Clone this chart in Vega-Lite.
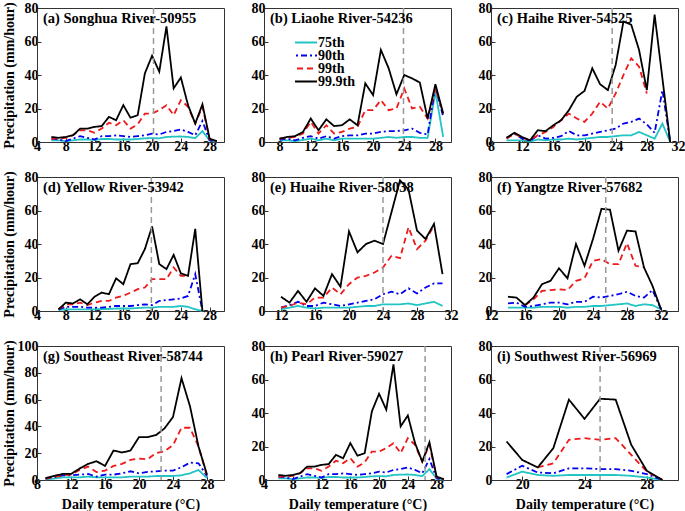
{
"$schema":"https://vega.github.io/schema/vega-lite/v6.json",
"padding":{"left":1,"top":0,"right":0,"bottom":0},
"background":"white",
"datasets":{
"a":[
{"t":6,"p75":1,"p90":2,"p99":2,"p999":3},
{"t":7,"p75":1,"p90":1.5,"p99":2,"p999":2.5},
{"t":8,"p75":0.5,"p90":0.5,"p99":2.5,"p999":3},
{"t":9,"p75":1,"p90":2,"p99":4,"p999":4},
{"t":10,"p75":1.5,"p90":3.5,"p99":7,"p999":8},
{"t":11,"p75":1.5,"p90":2.5,"p99":7,"p999":8},
{"t":12,"p75":1.2,"p90":1.5,"p99":5.5,"p999":9},
{"t":13,"p75":1.8,"p90":3.5,"p99":8,"p999":9.5},
{"t":14,"p75":1.8,"p90":3.5,"p99":11.5,"p999":15},
{"t":15,"p75":1.5,"p90":4,"p99":10,"p999":13},
{"t":16,"p75":1.5,"p90":3.5,"p99":13,"p999":22},
{"t":17,"p75":1.5,"p90":3,"p99":8,"p999":14.5},
{"t":18,"p75":1.8,"p90":3.5,"p99":10.5,"p999":16},
{"t":19,"p75":2.2,"p90":4,"p99":17,"p999":41},
{"t":20,"p75":2.3,"p90":5,"p99":17,"p999":51.5},
{"t":21,"p75":2.2,"p90":4.5,"p99":19,"p999":42},
{"t":22,"p75":3,"p90":6,"p99":22,"p999":69},
{"t":23,"p75":3.2,"p90":6.5,"p99":16,"p999":32},
{"t":24,"p75":3.3,"p90":7.5,"p99":25,"p999":38.5},
{"t":25,"p75":3,"p90":6,"p99":21,"p999":22},
{"t":26,"p75":2.3,"p90":4,"p99":11,"p999":11},
{"t":27,"p75":6.5,"p90":12.5,"p99":21,"p999":22.5},
{"t":28,"p75":0.8,"p90":1,"p99":1.5,"p999":2},
{"t":29,"p75":0.2,"p90":0.2,"p99":0.3,"p999":0.5}
],
"b":[
{"t":8,"p75":1,"p90":1.5,"p99":2,"p999":2},
{"t":9,"p75":1,"p90":2,"p99":2.5,"p999":3},
{"t":10,"p75":0.5,"p90":1,"p99":3,"p999":3.5},
{"t":11,"p75":1.2,"p90":2.5,"p99":5,"p999":6},
{"t":12,"p75":2,"p90":3.5,"p99":12,"p999":14},
{"t":13,"p75":1,"p90":2,"p99":5,"p999":7},
{"t":14,"p75":2,"p90":3.5,"p99":10,"p999":13.5},
{"t":15,"p75":1,"p90":2,"p99":5,"p999":9.5},
{"t":16,"p75":2,"p90":3.5,"p99":6,"p999":10},
{"t":17,"p75":2,"p90":4,"p99":8,"p999":13.5},
{"t":18,"p75":2,"p90":4,"p99":9,"p999":10},
{"t":19,"p75":2,"p90":5,"p99":19,"p999":35},
{"t":20,"p75":2,"p90":5,"p99":19,"p999":28},
{"t":21,"p75":2.5,"p90":6,"p99":25,"p999":55},
{"t":22,"p75":3,"p90":6.5,"p99":19,"p999":44},
{"t":23,"p75":2.5,"p90":6.5,"p99":20,"p999":28.5},
{"t":24,"p75":3,"p90":7,"p99":32,"p999":40},
{"t":25,"p75":3,"p90":8,"p99":20,"p999":38},
{"t":26,"p75":2.5,"p90":5.5,"p99":21,"p999":35.5},
{"t":27,"p75":2.5,"p90":4.5,"p99":14,"p999":14},
{"t":28,"p75":30,"p90":33,"p99":32,"p999":34.5},
{"t":29,"p75":3,"p90":15,"p99":17,"p999":17}
],
"c":[
{"t":10,"p75":1,"p90":2.5,"p99":2,"p999":2.5},
{"t":11,"p75":1,"p90":5,"p99":5,"p999":5.5},
{"t":12,"p75":1,"p90":2,"p99":2.5,"p999":3},
{"t":13,"p75":0.3,"p90":0.5,"p99":1,"p999":1},
{"t":14,"p75":1.5,"p90":4,"p99":4,"p999":7},
{"t":15,"p75":1,"p90":2,"p99":6,"p999":6.5},
{"t":16,"p75":1.5,"p90":2.5,"p99":9,"p999":10},
{"t":17,"p75":1.5,"p90":3.5,"p99":13,"p999":13},
{"t":18,"p75":2,"p90":6.5,"p99":17,"p999":19},
{"t":19,"p75":1.5,"p90":4,"p99":14,"p999":27},
{"t":20,"p75":2,"p90":4,"p99":12,"p999":30.5},
{"t":21,"p75":2.5,"p90":5,"p99":17,"p999":44},
{"t":22,"p75":3,"p90":6,"p99":24,"p999":34.5},
{"t":23,"p75":3,"p90":7,"p99":20,"p999":31},
{"t":24,"p75":3.5,"p90":8,"p99":29,"p999":46},
{"t":25,"p75":4,"p90":11,"p99":40,"p999":72},
{"t":26,"p75":4,"p90":12,"p99":50,"p999":70},
{"t":27,"p75":6,"p90":14,"p99":45,"p999":55},
{"t":28,"p75":4,"p90":10.5,"p99":29,"p999":31},
{"t":29,"p75":2,"p90":5.5,"p99":null,"p999":76},
{"t":30,"p75":11,"p90":31,"p99":null,"p999":38},
{"t":31,"p75":0,"p90":0,"p99":null,"p999":0}
],
"d":[
{"t":7,"p75":0.5,"p90":1,"p99":1,"p999":1},
{"t":8,"p75":1,"p90":2.5,"p99":4,"p999":5},
{"t":9,"p75":1,"p90":2.5,"p99":4,"p999":4.5},
{"t":10,"p75":1,"p90":2.5,"p99":5,"p999":7},
{"t":11,"p75":1,"p90":2,"p99":3.5,"p999":4},
{"t":12,"p75":1,"p90":2,"p99":5,"p999":8.5},
{"t":13,"p75":1.2,"p90":2,"p99":6,"p999":11},
{"t":14,"p75":1.2,"p90":2.5,"p99":6,"p999":10},
{"t":15,"p75":1.5,"p90":3,"p99":8,"p999":19.5},
{"t":16,"p75":1.5,"p90":3,"p99":9,"p999":16},
{"t":17,"p75":1.5,"p90":3,"p99":11,"p999":28},
{"t":18,"p75":1.8,"p90":3.5,"p99":13,"p999":28.5},
{"t":19,"p75":2,"p90":4,"p99":14,"p999":37},
{"t":20,"p75":2,"p90":3.5,"p99":19,"p999":50.5},
{"t":21,"p75":2.5,"p90":6,"p99":19,"p999":28},
{"t":22,"p75":2.5,"p90":6.5,"p99":19,"p999":25},
{"t":23,"p75":2.5,"p90":7,"p99":26,"p999":33.5},
{"t":24,"p75":3,"p90":7.5,"p99":21,"p999":22.5},
{"t":25,"p75":2.5,"p90":9,"p99":21,"p999":21},
{"t":26,"p75":1,"p90":22,"p99":null,"p999":49},
{"t":27,"p75":0,"p90":0,"p99":null,"p999":0}
],
"e":[
{"t":12,"p75":1,"p90":2,"p99":2,"p999":8.5},
{"t":13,"p75":2,"p90":3.5,"p99":3,"p999":5},
{"t":14,"p75":3,"p90":5.5,"p99":5,"p999":12},
{"t":15,"p75":2,"p90":3,"p99":4,"p999":5.5},
{"t":16,"p75":1.5,"p90":3,"p99":8,"p999":13.5},
{"t":17,"p75":2,"p90":5,"p99":8,"p999":9},
{"t":18,"p75":2,"p90":4,"p99":14,"p999":22},
{"t":19,"p75":2,"p90":3,"p99":10,"p999":14.5},
{"t":20,"p75":2,"p90":4,"p99":16,"p999":47.5},
{"t":21,"p75":2.5,"p90":5,"p99":20,"p999":35},
{"t":22,"p75":3,"p90":6,"p99":21,"p999":40},
{"t":23,"p75":3,"p90":7,"p99":23,"p999":42},
{"t":24,"p75":4,"p90":10,"p99":26,"p999":40},
{"t":25,"p75":4,"p90":11.5,"p99":33,"p999":59},
{"t":26,"p75":4,"p90":10,"p99":31.5,"p999":78},
{"t":27,"p75":4.5,"p90":13.5,"p99":50,"p999":72.5},
{"t":28,"p75":3.5,"p90":10.5,"p99":37,"p999":48},
{"t":29,"p75":4.5,"p90":14,"p99":42,"p999":43},
{"t":30,"p75":5.5,"p90":16.5,"p99":51,"p999":52},
{"t":31,"p75":3,"p90":16.5,"p99":null,"p999":22}
],
"f":[
{"t":14,"p75":2,"p90":4.5,"p99":null,"p999":8.5},
{"t":15,"p75":2,"p90":5,"p99":null,"p999":8},
{"t":16,"p75":2,"p90":2.5,"p99":3.5,"p999":3.5},
{"t":17,"p75":2,"p90":3,"p99":7,"p999":8},
{"t":18,"p75":2.5,"p90":4,"p99":12,"p999":16},
{"t":19,"p75":2.5,"p90":5,"p99":12.5,"p999":18},
{"t":20,"p75":2.5,"p90":5,"p99":13,"p999":25.5},
{"t":21,"p75":2,"p90":4,"p99":12.5,"p999":19.5},
{"t":22,"p75":2.5,"p90":5.5,"p99":18,"p999":40},
{"t":23,"p75":2.5,"p90":5.5,"p99":19.5,"p999":27},
{"t":24,"p75":3,"p90":8.5,"p99":30,"p999":43},
{"t":25,"p75":3,"p90":8,"p99":31,"p999":61},
{"t":26,"p75":3.5,"p90":9,"p99":28,"p999":60.5},
{"t":27,"p75":4,"p90":10,"p99":28,"p999":36},
{"t":28,"p75":4.5,"p90":11.5,"p99":40.5,"p999":48},
{"t":29,"p75":3,"p90":9,"p99":27,"p999":47.5},
{"t":30,"p75":4,"p90":8,"p99":26,"p999":26},
{"t":31,"p75":3.5,"p90":12.5,"p99":null,"p999":15},
{"t":32,"p75":1,"p90":1,"p99":null,"p999":1}
],
"g":[
{"t":9,"p75":0.5,"p90":1,"p99":1,"p999":1.5},
{"t":10,"p75":1,"p90":2,"p99":2,"p999":3},
{"t":11,"p75":2,"p90":3.5,"p99":3.5,"p999":4.5},
{"t":12,"p75":2,"p90":3.5,"p99":4,"p999":4.5},
{"t":13,"p75":2,"p90":4,"p99":7.5,"p999":8.5},
{"t":14,"p75":2.5,"p90":4.5,"p99":10,"p999":12},
{"t":15,"p75":2,"p90":2.5,"p99":6,"p999":14},
{"t":16,"p75":2,"p90":4,"p99":7,"p999":10.5},
{"t":17,"p75":2,"p90":4,"p99":10.5,"p999":22},
{"t":18,"p75":2,"p90":5,"p99":12,"p999":20.5},
{"t":19,"p75":2.5,"p90":6.5,"p99":15,"p999":22},
{"t":20,"p75":2.5,"p90":5,"p99":16,"p999":32},
{"t":21,"p75":2.5,"p90":6,"p99":15.5,"p999":32},
{"t":22,"p75":3,"p90":6.5,"p99":20,"p999":33.5},
{"t":23,"p75":3,"p90":7,"p99":21.5,"p999":38.5},
{"t":24,"p75":3,"p90":7,"p99":26,"p999":47},
{"t":25,"p75":3.5,"p90":9.5,"p99":39,"p999":76},
{"t":26,"p75":5,"p90":13,"p99":39,"p999":55},
{"t":27,"p75":7.5,"p90":12.5,"p99":25,"p999":25},
{"t":28,"p75":1.5,"p90":3,"p99":3,"p999":4}
],
"i":[
{"t":19,"p75":1.5,"p90":3.5,"p99":null,"p999":23},
{"t":20,"p75":5,"p90":8.5,"p99":null,"p999":12},
{"t":21,"p75":3,"p90":4.5,"p99":7.5,"p999":7.5},
{"t":22,"p75":2.5,"p90":4,"p99":10,"p999":19},
{"t":23,"p75":3,"p90":7,"p99":24,"p999":48},
{"t":24,"p75":3,"p90":7,"p99":25,"p999":36.5},
{"t":25,"p75":3,"p90":6.5,"p99":24,"p999":48.5},
{"t":26,"p75":3,"p90":6.5,"p99":25,"p999":48},
{"t":27,"p75":2.5,"p90":5.5,"p99":15,"p999":21},
{"t":28,"p75":1.5,"p90":3.5,"p99":5,"p999":5.5},
{"t":29,"p75":0,"p90":0,"p99":0,"p999":0}
]
},
"columns":3,
"bounds":"flush",
"spacing":{"row":35,"column":40},
"resolve":{"legend":{"color":"independent","strokeDash":"independent"}},
"concat":[
{"width":187,"height":134,"title":{"text":"(a) Songhua River-50955"},
 "layer":[
  {"data":{"name":"a"},"transform":[{"fold":["p75","p90","p99","p999"],"as":["pct","v"]}],
   "mark":{"type":"line","strokeWidth":1.8},
   "encoding":{
    "x":{"field":"t","type":"quantitative","scale":{"domain":[4,30]},"axis":{"values":[4,8,12,16,20,24,28],"title":null}},
    "y":{"field":"v","type":"quantitative","scale":{"domain":[0,80]},"axis":{"values":[0,20,40,60,80],"title":"Precipitation (mm/hour)","titleX":-21}},
    "color":{"field":"pct","type":"nominal","scale":{"domain":["p75","p90","p99","p999"],"range":["#22C4C4","#0000F0","#F01818","#000000"]},"legend":null},
    "strokeDash":{"field":"pct","type":"nominal","scale":{"domain":["p75","p90","p99","p999"],"range":[[1,0],[6,3,2,3],[6,4],[1,0]]},"legend":null}}},
  {"data":{"values":[{"tc":20.2}]},"mark":{"type":"rule","color":"#999999","strokeDash":[6,4],"strokeWidth":1.5},"encoding":{"x":{"field":"tc","type":"quantitative"}}}
 ]},
{"width":187,"height":134,"title":{"text":"(b) Liaohe River-54236"},
 "layer":[
  {"data":{"name":"b"},"transform":[{"fold":["p75","p90","p99","p999"],"as":["pct","v"]}],
   "mark":{"type":"line","strokeWidth":1.8},
   "encoding":{
    "x":{"field":"t","type":"quantitative","scale":{"domain":[6,30]},"axis":{"values":[8,12,16,20,24,28],"title":null}},
    "y":{"field":"v","type":"quantitative","scale":{"domain":[0,80]},"axis":{"values":[0,20,40,60,80],"title":null}},
    "color":{"field":"pct","type":"nominal","scale":{"domain":["p75","p90","p99","p999"],"range":["#22C4C4","#0000F0","#F01818","#000000"]},
      "legend":{"orient":"none","legendX":31,"legendY":29,"title":null,"symbolType":"M-3,0H3","symbolSize":100,"symbolStrokeWidth":2,"labelFont":"Liberation Serif","labelFontSize":14,"labelFontWeight":"bold","labelColor":"#000","rowPadding":-3,"clipHeight":11,"labelOffset":9,"padding":0,"labelExpr":"datum.label == 'p75' ? '75th' : datum.label == 'p90' ? '90th' : datum.label == 'p99' ? '99th' : '99.9th'"}},
    "strokeDash":{"field":"pct","type":"nominal","scale":{"domain":["p75","p90","p99","p999"],"range":[[1,0],[6,3,2,3],[6,4],[1,0]]},
      "legend":{"orient":"none","legendX":31,"legendY":29,"title":null,"symbolType":"M-3,0H3","symbolSize":100,"symbolStrokeWidth":2,"labelFont":"Liberation Serif","labelFontSize":14,"labelFontWeight":"bold","labelColor":"#000","rowPadding":-3,"clipHeight":11,"labelOffset":9,"padding":0,"labelExpr":"datum.label == 'p75' ? '75th' : datum.label == 'p90' ? '90th' : datum.label == 'p99' ? '99th' : '99.9th'"}}}},
  {"data":{"values":[{"tc":23.9}]},"mark":{"type":"rule","color":"#999999","strokeDash":[6,4],"strokeWidth":1.5},"encoding":{"x":{"field":"tc","type":"quantitative"}}}
 ]},
{"width":187,"height":134,"title":{"text":"(c) Haihe River-54525"},
 "layer":[
  {"data":{"name":"c"},"transform":[{"fold":["p75","p90","p99","p999"],"as":["pct","v"]}],
   "mark":{"type":"line","strokeWidth":1.8},
   "encoding":{
    "x":{"field":"t","type":"quantitative","scale":{"domain":[8,32]},"axis":{"values":[8,12,16,20,24,28,32],"title":null}},
    "y":{"field":"v","type":"quantitative","scale":{"domain":[0,80]},"axis":{"values":[0,20,40,60,80],"title":null}},
    "color":{"field":"pct","type":"nominal","scale":{"domain":["p75","p90","p99","p999"],"range":["#22C4C4","#0000F0","#F01818","#000000"]},"legend":null},
    "strokeDash":{"field":"pct","type":"nominal","scale":{"domain":["p75","p90","p99","p999"],"range":[[1,0],[6,3,2,3],[6,4],[1,0]]},"legend":null}}},
  {"data":{"values":[{"tc":23.55}]},"mark":{"type":"rule","color":"#999999","strokeDash":[6,4],"strokeWidth":1.5},"encoding":{"x":{"field":"tc","type":"quantitative"}}}
 ]},
{"width":187,"height":134,"title":{"text":"(d) Yellow River-53942"},
 "layer":[
  {"data":{"name":"d"},"transform":[{"fold":["p75","p90","p99","p999"],"as":["pct","v"]}],
   "mark":{"type":"line","strokeWidth":1.8},
   "encoding":{
    "x":{"field":"t","type":"quantitative","scale":{"domain":[4,30]},"axis":{"values":[4,8,12,16,20,24,28],"title":null}},
    "y":{"field":"v","type":"quantitative","scale":{"domain":[0,80]},"axis":{"values":[0,20,40,60,80],"title":"Precipitation (mm/hour)","titleX":-21}},
    "color":{"field":"pct","type":"nominal","scale":{"domain":["p75","p90","p99","p999"],"range":["#22C4C4","#0000F0","#F01818","#000000"]},"legend":null},
    "strokeDash":{"field":"pct","type":"nominal","scale":{"domain":["p75","p90","p99","p999"],"range":[[1,0],[6,3,2,3],[6,4],[1,0]]},"legend":null}}},
  {"data":{"values":[{"tc":19.9}]},"mark":{"type":"rule","color":"#999999","strokeDash":[6,4],"strokeWidth":1.5},"encoding":{"x":{"field":"tc","type":"quantitative"}}}
 ]},
{"width":187,"height":134,"title":{"text":"(e) Huaihe River-58038"},
 "layer":[
  {"data":{"name":"e"},"transform":[{"fold":["p75","p90","p99","p999"],"as":["pct","v"]}],
   "mark":{"type":"line","strokeWidth":1.8},
   "encoding":{
    "x":{"field":"t","type":"quantitative","scale":{"domain":[10,32]},"axis":{"values":[12,16,20,24,28,32],"title":null}},
    "y":{"field":"v","type":"quantitative","scale":{"domain":[0,80]},"axis":{"values":[0,20,40,60,80],"title":null}},
    "color":{"field":"pct","type":"nominal","scale":{"domain":["p75","p90","p99","p999"],"range":["#22C4C4","#0000F0","#F01818","#000000"]},"legend":null},
    "strokeDash":{"field":"pct","type":"nominal","scale":{"domain":["p75","p90","p99","p999"],"range":[[1,0],[6,3,2,3],[6,4],[1,0]]},"legend":null}}},
  {"data":{"values":[{"tc":24}]},"mark":{"type":"rule","color":"#999999","strokeDash":[6,4],"strokeWidth":1.5},"encoding":{"x":{"field":"tc","type":"quantitative"}}}
 ]},
{"width":187,"height":134,"title":{"text":"(f) Yangtze River-57682"},
 "layer":[
  {"data":{"name":"f"},"transform":[{"fold":["p75","p90","p99","p999"],"as":["pct","v"]}],
   "mark":{"type":"line","strokeWidth":1.8},
   "encoding":{
    "x":{"field":"t","type":"quantitative","scale":{"domain":[12,34]},"axis":{"values":[12,16,20,24,28,32],"title":null}},
    "y":{"field":"v","type":"quantitative","scale":{"domain":[0,80]},"axis":{"values":[0,20,40,60,80],"title":null}},
    "color":{"field":"pct","type":"nominal","scale":{"domain":["p75","p90","p99","p999"],"range":["#22C4C4","#0000F0","#F01818","#000000"]},"legend":null},
    "strokeDash":{"field":"pct","type":"nominal","scale":{"domain":["p75","p90","p99","p999"],"range":[[1,0],[6,3,2,3],[6,4],[1,0]]},"legend":null}}},
  {"data":{"values":[{"tc":25.5}]},"mark":{"type":"rule","color":"#999999","strokeDash":[6,4],"strokeWidth":1.5},"encoding":{"x":{"field":"tc","type":"quantitative"}}}
 ]},
{"width":187,"height":134,"title":{"text":"(g) Southeast River-58744"},
 "layer":[
  {"data":{"name":"g"},"transform":[{"fold":["p75","p90","p99","p999"],"as":["pct","v"]}],
   "mark":{"type":"line","strokeWidth":1.8},
   "encoding":{
    "x":{"field":"t","type":"quantitative","scale":{"domain":[8,30]},"axis":{"values":[8,12,16,20,24,28],"title":"Daily temperature (°C)"}},
    "y":{"field":"v","type":"quantitative","scale":{"domain":[0,100]},"axis":{"values":[0,20,40,60,80,100],"title":"Precipitation (mm/hour)","titleX":-21}},
    "color":{"field":"pct","type":"nominal","scale":{"domain":["p75","p90","p99","p999"],"range":["#22C4C4","#0000F0","#F01818","#000000"]},"legend":null},
    "strokeDash":{"field":"pct","type":"nominal","scale":{"domain":["p75","p90","p99","p999"],"range":[[1,0],[6,3,2,3],[6,4],[1,0]]},"legend":null}}},
  {"data":{"values":[{"tc":22.6}]},"mark":{"type":"rule","color":"#999999","strokeDash":[6,4],"strokeWidth":1.5},"encoding":{"x":{"field":"tc","type":"quantitative"}}}
 ]},
{"width":187,"height":134,"title":{"text":"(h) Pearl River-59027"},
 "layer":[
  {"data":{"name":"a"},"transform":[{"fold":["p75","p90","p99","p999"],"as":["pct","v"]}],
   "mark":{"type":"line","strokeWidth":1.8},
   "encoding":{
    "x":{"field":"t","type":"quantitative","scale":{"domain":[4,30]},"axis":{"values":[4,8,12,16,20,24,28],"title":"Daily temperature (°C)"}},
    "y":{"field":"v","type":"quantitative","scale":{"domain":[0,80]},"axis":{"values":[0,20,40,60,80],"title":null}},
    "color":{"field":"pct","type":"nominal","scale":{"domain":["p75","p90","p99","p999"],"range":["#22C4C4","#0000F0","#F01818","#000000"]},"legend":null},
    "strokeDash":{"field":"pct","type":"nominal","scale":{"domain":["p75","p90","p99","p999"],"range":[[1,0],[6,3,2,3],[6,4],[1,0]]},"legend":null}}},
  {"data":{"values":[{"tc":26.4}]},"mark":{"type":"rule","color":"#999999","strokeDash":[6,4],"strokeWidth":1.5},"encoding":{"x":{"field":"tc","type":"quantitative"}}}
 ]},
{"width":187,"height":134,"title":{"text":"(i) Southwest River-56969"},
 "layer":[
  {"data":{"name":"i"},"transform":[{"fold":["p75","p90","p99","p999"],"as":["pct","v"]}],
   "mark":{"type":"line","strokeWidth":1.8},
   "encoding":{
    "x":{"field":"t","type":"quantitative","scale":{"domain":[18,30]},"axis":{"values":[20,24,28],"title":"Daily temperature (°C)"}},
    "y":{"field":"v","type":"quantitative","scale":{"domain":[0,80]},"axis":{"values":[0,20,40,60,80],"title":null}},
    "color":{"field":"pct","type":"nominal","scale":{"domain":["p75","p90","p99","p999"],"range":["#22C4C4","#0000F0","#F01818","#000000"]},"legend":null},
    "strokeDash":{"field":"pct","type":"nominal","scale":{"domain":["p75","p90","p99","p999"],"range":[[1,0],[6,3,2,3],[6,4],[1,0]]},"legend":null}}},
  {"data":{"values":[{"tc":25}]},"mark":{"type":"rule","color":"#999999","strokeDash":[6,4],"strokeWidth":1.5},"encoding":{"x":{"field":"tc","type":"quantitative"}}}
 ]}
],
"config":{
 "view":{"stroke":"#333333","strokeWidth":1},
 "axis":{"grid":false,"labelFont":"Liberation Serif","labelFontSize":14,"labelFontWeight":"bold","labelColor":"#000000","titleFont":"Liberation Serif","titleFontSize":14,"titleFontWeight":"bold","titleColor":"#000000","tickSize":-4,"tickColor":"#333333","domainColor":"#333333","labelPadding":3,"labelFlush":false,"labelOverlap":false,"tickCount":20,"format":"d"},
 "axisX":{"labelPadding":1,"titlePadding":6},
 "title":{"anchor":"start","frame":"group","offset":-25,"dx":6,"font":"Liberation Serif","fontSize":14.5,"fontWeight":"bold","color":"#000000"}
}
}
